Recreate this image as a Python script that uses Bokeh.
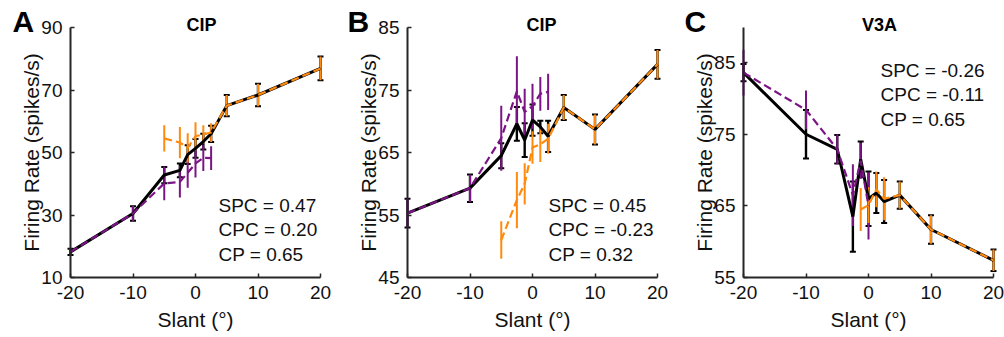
import numpy as np
from bokeh.plotting import figure
from bokeh.models import ColumnDataSource, Whisker, TeeHead, Label, Range1d, FixedTicker
from bokeh.layouts import row
from bokeh.embed import file_html
from bokeh.resources import INLINE

# ---------------- data ----------------
slant = [-20, -10, -5, -2.5, -1.25, 0, 1.25, 2.5, 5, 10, 20]
x_ticks = [-20, -10, 0, 10, 20]
x_tick_labels = ["-20", "-10", "0", "10", "20"]

# Panel A (CIP)
a_blk_mean = [18.2, 30.5, 42.8, 44.3, 49.3, 51.3, 53.5, 56.0, 65.0, 68.4, 76.9]
a_blk_err = [1.0, 2.3, 2.6, 2.2, 3.0, 3.0, 2.5, 2.6, 3.4, 3.6, 3.8]
a_pur_slant = [-20, -10, -5, -2.5, -1.25, 0, 1.25, 2.5]
a_pur_mean = [18.2, 30.5, 40.1, 40.6, 43.5, 46.5, 48.3, 48.2]
a_pur_err = [1.2, 2.4, 5.4, 5.0, 4.8, 4.5, 4.2, 3.8]
a_ora_slant = [-5, -2.5, -1.25, 0, 1.25, 2.5, 5, 10, 20]
a_ora_mean = [54.5, 53.2, 51.5, 55.2, 55.8, 56.4, 65.0, 68.4, 76.9]
a_ora_err = [4.2, 5.0, 4.7, 4.5, 2.9, 3.0, 3.4, 3.6, 3.8]
a_yticks = [10, 30, 50, 70, 90]
a_stats = ["SPC = 0.47", "CPC = 0.20", "CP = 0.65"]

# Panel B (CIP)
b_blk_mean = [55.3, 59.3, 64.5, 69.6, 67.0, 70.2, 69.1, 67.6, 72.2, 68.7, 79.1]
b_blk_err = [2.3, 2.2, 2.0, 2.7, 2.7, 2.5, 1.0, 2.5, 2.0, 2.4, 2.3]
b_pur_slant = [-20, -10, -5, -2.5, -1.25, 0, 1.25, 2.5]
b_pur_mean = [55.3, 59.3, 67.3, 74.8, 71.5, 72.4, 74.4, 74.7]
b_pur_err = [2.3, 2.2, 5.2, 5.6, 3.7, 3.6, 2.7, 2.9]
b_ora_slant = [-5, -2.5, -1.25, 0, 1.25, 2.5, 5, 10, 20]
b_ora_mean = [51.0, 57.4, 60.0, 65.8, 66.3, 67.2, 72.2, 68.7, 79.1]
b_ora_err = [3.0, 4.5, 3.3, 2.6, 2.8, 2.4, 2.0, 2.4, 2.3]
b_yticks = [45, 55, 65, 75, 85]
b_stats = ["SPC = 0.45", "CPC = -0.23", "CP = 0.32"]

# Panel C (V3A)
c_blk_mean = [83.6, 75.0, 72.9, 63.5, 71.5, 66.0, 66.8, 65.6, 66.5, 61.7, 57.4]
c_blk_err = [1.2, 3.4, 2.0, 4.9, 2.5, 3.8, 2.8, 3.0, 1.9, 2.0, 1.5]
c_pur_slant = [-20, -10, -5, -2.5, -1.25, 0]
c_pur_mean = [83.6, 78.4, 72.9, 66.5, 71.3, 65.0]
c_pur_err = [3.2, 2.7, 2.1, 4.3, 2.5, 4.7]
c_ora_slant = [-1.25, 0, 1.25, 2.5, 5, 10, 20]
c_ora_mean = [64.5, 65.1, 67.3, 66.0, 66.5, 61.7, 57.4]
c_ora_err = [3.0, 2.5, 2.5, 3.0, 1.9, 2.0, 1.5]
c_yticks = [55, 65, 75, 85]
c_stats = ["SPC = -0.26", "CPC = -0.11", "CP = 0.65"]

BLACK = "#000000"
PURPLE = "#7B1585"
ORANGE = "#FF8A0D"
AXIS = "#262626"
FONT = "Liberation Sans"
H = 337
TOP_PX, BOTTOM_PX = 27, 277


def src(xs, m, e):
    m = np.asarray(m, float)
    e = np.asarray(e, float)
    return ColumnDataSource(dict(x=list(xs), y=list(m), lower=list(m - e), upper=list(m + e)))


def make_panel(letter, title, ylo, yhi, yticks, stats, stats_y, blk, pur, ora,
               fig_w, left_px, right_px, letter_dx, title_dx, stats_dx):
    # frame covers the whole canvas; axes are pinned at x=-20 and y=ylo
    xpp = 40.0 / (right_px - left_px)
    ypp = (yhi - ylo) / (BOTTOM_PX - TOP_PX)
    xr = Range1d(-20 - left_px * xpp, 20 + (fig_w - right_px) * xpp)
    yr = Range1d(ylo - (H - BOTTOM_PX) * ypp, yhi + TOP_PX * ypp)
    p = figure(width=fig_w, height=H, x_range=xr, y_range=yr,
               output_backend="svg", toolbar_location=None,
               min_border=0)
    p.min_border_left = p.min_border_right = p.min_border_top = p.min_border_bottom = 0
    p.outline_line_color = None
    p.xgrid.visible = False
    p.ygrid.visible = False
    p.background_fill_color = "white"
    p.border_fill_color = "white"
    p.xaxis.ticker = FixedTicker(ticks=x_ticks)
    p.yaxis.ticker = FixedTicker(ticks=yticks)
    p.xaxis.major_label_overrides = {t: s for t, s in zip(x_ticks, x_tick_labels)}
    p.xaxis.bounds = (-20, 20)
    p.yaxis.bounds = (ylo, yhi)
    p.xaxis.fixed_location = ylo
    p.yaxis.fixed_location = -20
    p.xaxis.axis_label = "Slant (°)"
    p.yaxis.axis_label = "Firing Rate (spikes/s)"
    for ax in (p.xaxis[0], p.yaxis[0]):
        ax.axis_line_width = 2
        ax.axis_line_color = AXIS
        ax.major_tick_in = 4
        ax.major_tick_out = 0
        ax.minor_tick_in = 0
        ax.minor_tick_out = 0
        ax.major_tick_line_color = AXIS
        ax.major_tick_line_width = 1.5
        ax.major_label_text_font = FONT
        ax.major_label_text_font_size = "19px"
        ax.major_label_text_color = "#111111"
        ax.axis_label_text_font = FONT
        ax.axis_label_text_font_size = "21px"
        ax.axis_label_text_font_style = "normal"
        ax.axis_label_text_color = "#111111"
    p.xaxis.major_label_standoff = 8
    p.xaxis.axis_label_standoff = 6
    p.yaxis.major_label_standoff = 8
    p.yaxis.axis_label_standoff = -5

    # black: all trials
    sb = src(*blk)
    p.line("x", "y", source=sb, line_color=BLACK, line_width=3)
    p.add_layout(Whisker(source=sb, base="x", upper="upper", lower="lower", dimension="height",
                         line_color=BLACK, line_width=2.4,
                         upper_head=TeeHead(size=6, line_color=BLACK, line_width=2),
                         lower_head=TeeHead(size=6, line_color=BLACK, line_width=2)))
    # purple and orange: choice-split
    for data, col in ((pur, PURPLE), (ora, ORANGE)):
        s = src(*data)
        p.line("x", "y", source=s, line_color=col, line_width=2.2, line_dash="8 4")
        p.add_layout(Whisker(source=s, base="x", upper="upper", lower="lower", dimension="height",
                             line_color=col, line_width=2.0, upper_head=None, lower_head=None))

    # panel letter
    p.add_layout(Label(x=left_px + letter_dx, y=H - 21, x_units="screen", y_units="screen",
                       text=letter, text_font=FONT, text_font_size="30px", text_font_style="bold",
                       text_color="#000000", text_baseline="alphabetic", text_align="left"))
    # title
    p.add_layout(Label(x=left_px + title_dx, y=H - 24, x_units="screen", y_units="screen",
                       text=title, text_font=FONT, text_font_size="18px", text_font_style="bold",
                       text_color="#000000", text_baseline="alphabetic", text_align="center"))
    # stats
    for t, yy in zip(stats, stats_y):
        p.add_layout(Label(x=left_px + stats_dx, y=H - yy, x_units="screen", y_units="screen",
                           text=t, text_font=FONT, text_font_size="19px", text_color="#111111",
                           text_baseline="alphabetic", text_align="left"))
    return p


pa = make_panel("A", "CIP", 10, 90, a_yticks, a_stats, [204.6, 229.0, 253.6],
                (slant, a_blk_mean, a_blk_err), (a_pur_slant, a_pur_mean, a_pur_err),
                (a_ora_slant, a_ora_mean, a_ora_err), 335, 70, 320, -58, 131, 148)
pb = make_panel("B", "CIP", 45, 85, b_yticks, b_stats, [204.6, 229.0, 253.6],
                (slant, b_blk_mean, b_blk_err), (b_pur_slant, b_pur_mean, b_pur_err),
                (b_ora_slant, b_ora_mean, b_ora_err), 335, 72, 322, -60, 134, 141)
pc = make_panel("C", "V3A", 55, 89.9, c_yticks, c_stats, [69.6, 94.3, 118.6],
                (slant, c_blk_mean, c_blk_err), (c_pur_slant, c_pur_mean, c_pur_err),
                (c_ora_slant, c_ora_mean, c_ora_err), 334, 73, 323, -59, 136, 137)

layout = row(pa, pb, pc, spacing=0)
open("out.html", "w").write(file_html(layout, INLINE))
